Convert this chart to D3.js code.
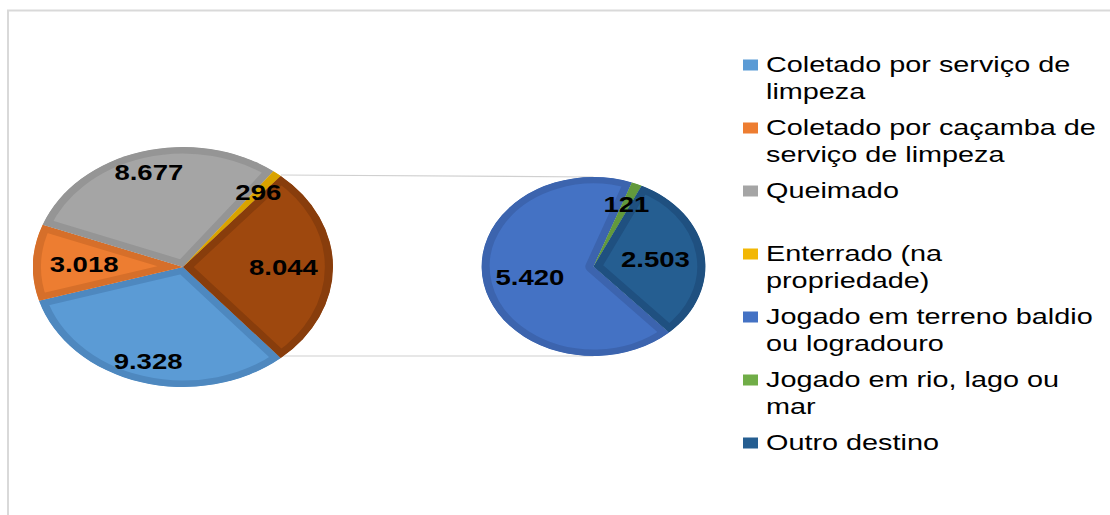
<!DOCTYPE html>
<html>
<head>
<meta charset="utf-8">
<script src="https://cdn.jsdelivr.net/npm/d3@7"></script>
<style>
  html, body { margin: 0; padding: 0; background: #fff; }
  svg { display: block; }
  text { font-family: "Liberation Sans", Arial, sans-serif; }
</style>
</head>
<body>
<svg id="chart" width="1110" height="515"></svg>
<script>
// ---- data ----
const mainCategories = ["Coletado por serviço de limpeza", "Coletado por caçamba de serviço de limpeza", "Queimado", "Enterrado (na propriedade)", "Outros"];
const mainValues = [9328, 3018, 8677, 296, 8044];
const mainLabels = ["9.328", "3.018", "8.677", "296", "8.044"];

const subCategories = ["Jogado em terreno baldio ou logradouro", "Jogado em rio, lago ou mar", "Outro destino"];
const subValues = [5420, 121, 2503];
const subLabels = ["5.420", "121", "2.503"];

const legendLines = [
  ["Coletado por serviço de", "limpeza"],
  ["Coletado por caçamba de", "serviço de limpeza"],
  ["Queimado", ""],
  ["Enterrado (na", "propriedade)"],
  ["Jogado em terreno baldio", "ou logradouro"],
  ["Jogado em rio, lago ou", "mar"],
  ["Outro destino"]
];

// ---- styles ----
const mainFill   = ["#5b9bd5", "#ed7d31", "#a5a5a5", "#f2b705", "#9e480e"];
const mainEdge   = ["#4e88bf", "#d66f2a", "#959595", "#d9a300", "#883d0c"];
const subFill    = ["#4472c4", "#70ad47", "#255e91"];
const subEdge    = ["#3c64ae", "#62993d", "#1f5080"];
const legendFill = ["#5b9bd5", "#ed7d31", "#a5a5a5", "#f2b705", "#4472c4", "#70ad47", "#255e91"];

const SX = 1.25;   // horizontal stretch of the original picture
const TSX = 1.31;  // stretch of legend text
const svg = d3.select("#chart");
const defs = svg.append("defs");

// frame
svg.append("path").attr("d", "M8,515 V10.5 H1110").attr("fill", "none")
  .attr("stroke", "#d9d9d9").attr("stroke-width", 2);

const g = svg.append("g").attr("transform", `scale(${SX},1)`);

const deg = Math.PI / 180;
const mainC = {x: 183 / SX, y: 267, r: 120};
const subC = {x: 593.5 / SX, y: 266.5, r: 89.5};

const mainTotal = d3.sum(mainValues);
const otherSpan = mainValues[4] / mainTotal * 2 * Math.PI;
const mainStart = Math.PI / 2 + otherSpan / 2;
const mainPie = d3.pie().sort(null).startAngle(mainStart).endAngle(mainStart + 2 * Math.PI);
const mainArcs = mainPie(mainValues);

const subStart = 137.5 * deg;
const subPie = d3.pie().sort(null).startAngle(subStart).endAngle(subStart + 2 * Math.PI);
const subArcs = subPie(subValues);

// connector lines
const oa = mainArcs[4];
const pt = (c, a, r) => [c.x + r * Math.sin(a), c.y - r * Math.cos(a)];
const p1 = pt(mainC, oa.startAngle, mainC.r), p2 = pt(mainC, oa.endAngle, mainC.r);
g.append("line").attr("x1", p1[0]).attr("y1", p1[1] - 1).attr("x2", subC.x).attr("y2", subC.y - subC.r)
  .attr("stroke", "#d0d0d0").attr("stroke-width", 1.2);
g.append("line").attr("x1", p2[0]).attr("y1", p2[1] - 2).attr("x2", subC.x).attr("y2", subC.y + subC.r)
  .attr("stroke", "#d0d0d0").attr("stroke-width", 1.2);

function drawPie(arcs, c, fills, edges, labels, fracs, id) {
  const arc = d3.arc().innerRadius(0).outerRadius(c.r);
  const grp = g.append("g").attr("transform", `translate(${c.x},${c.y})`);
  arcs.forEach((a, i) => {
    const cid = `clip-${id}-${i}`;
    defs.append("clipPath").attr("id", cid)
      .append("path").attr("d", arc(a));
    grp.append("path").attr("d", arc(a))
      .attr("fill", fills[i])
      .attr("stroke", edges[i]).attr("stroke-width", 13)
      .attr("stroke-linejoin", "round")
      .attr("clip-path", `url(#${cid})`);
  });
  arcs.forEach((a, i) => {
    const m = (a.startAngle + a.endAngle) / 2;
    const r = c.r * fracs[i];
    grp.append("text")
      .attr("x", r * Math.sin(m)).attr("y", -r * Math.cos(m))
      .attr("text-anchor", "middle").attr("dy", "0.36em")
      .attr("font-size", 22).attr("font-weight", "bold").attr("fill", "#000")
      .text(labels[i]);
  });
}

drawPie(mainArcs, mainC, mainFill, mainEdge, mainLabels, [0.82, 0.66, 0.82, 0.8, 0.67], "m");
drawPie(subArcs, subC, subFill, subEdge, subLabels, [0.58, 0.76, 0.56], "s");

// legend (unscaled group, own text stretch)
const lg = svg.append("g");
const itemY = [59, 122, 185, 248, 311, 374, 437];
legendLines.forEach((lines, i) => {
  lg.append("rect").attr("x", 743).attr("y", itemY[i] + 0.5)
    .attr("width", 15).attr("height", 11).attr("fill", legendFill[i]);
  lines.forEach((t, j) => {
    lg.append("text")
      .attr("transform", `translate(766,${itemY[i] + 13 + j * 26.5}) scale(${TSX},1)`)
      .attr("font-size", 22).attr("fill", "#000").text(t);
  });
});
</script>
</body>
</html>
